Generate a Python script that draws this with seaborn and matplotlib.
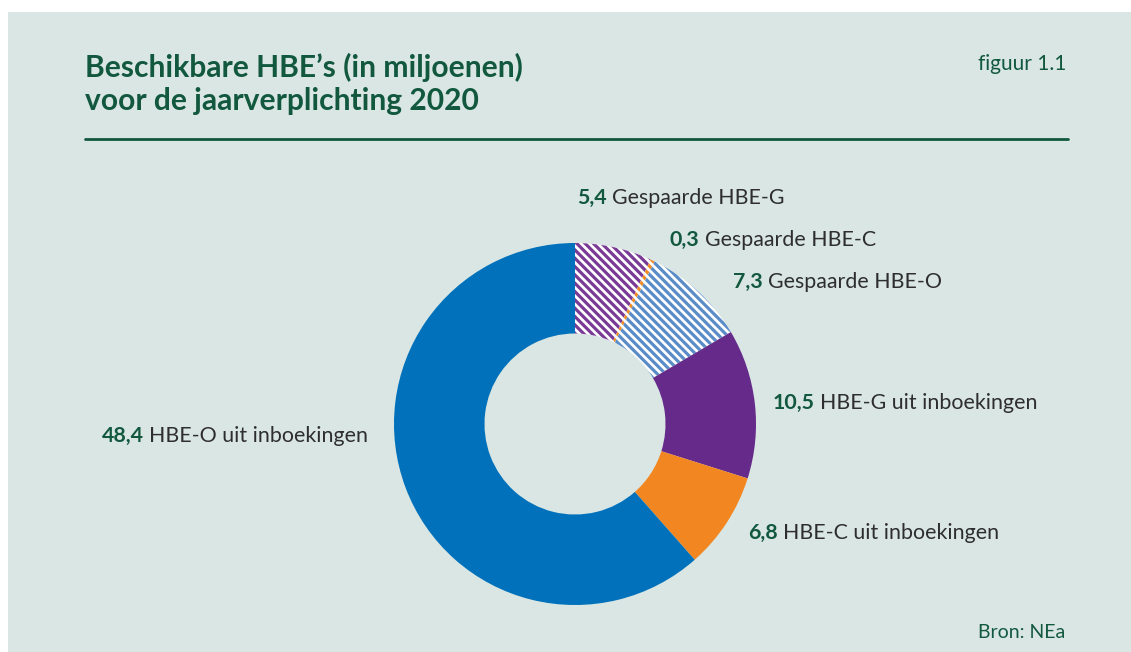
import matplotlib
matplotlib.use("Agg")
import matplotlib.pyplot as plt
import seaborn as sns
from matplotlib.patches import Rectangle
from matplotlib.lines import Line2D

sns.set_theme(style="white")
plt.rcParams['font.family'] = ['Lato', 'DejaVu Sans']
plt.rcParams['hatch.linewidth'] = 2.3

# Data
values = [5.4, 0.3, 7.3, 10.5, 6.8, 48.4]
value_labels = ["5,4", "0,3", "7,3", "10,5", "6,8", "48,4"]
names = ["Gespaarde HBE-G", "Gespaarde HBE-C", "Gespaarde HBE-O",
         "HBE-G uit inboekingen", "HBE-C uit inboekingen", "HBE-O uit inboekingen"]
hatched = [True, True, True, False, False, False]
colors = ["#7a3b97", "#f08a24", "#5a8cc8", "#652a8a", "#f28722", "#0071ba"]

title = "Beschikbare HBE\u2019s (in miljoenen)\nvoor de jaarverplichting 2020"

W, H = 1131, 652
fig = plt.figure(figsize=(W / 100, H / 100), dpi=100)
fig.patch.set_facecolor("white")

def fx(px):
    return px / W

def fy(py):
    return 1 - py / H

bg = "#d9e6e3"
green = "#12583f"
grey = "#2e2e2e"

fig.patches.append(Rectangle((fx(8), 0), fx(W) - fx(8), fy(12), transform=fig.transFigure,
                             facecolor=bg, edgecolor="none", zorder=-10))

fig.text(fx(85), fy(84), title, fontsize=21.6, fontweight="bold", color=green,
         ha="left", va="center", linespacing=1.22)
fig.text(fx(1066), fy(64), "figuur 1.1", fontsize=15, color=green, ha="right", va="center")
fig.lines.append(Line2D([fx(85), fx(1068)], [fy(139), fy(139)], transform=fig.transFigure,
                        color=green, lw=2))
fig.text(fx(1065), fy(632), "Bron: NEa", fontsize=14, color=green, ha="right", va="center")

# Donut
cx, cy, r = 575, 424, 181
ax = fig.add_axes([fx(cx - r), fy(cy + r), (2 * r) / W, (2 * r) / H])
ax.set_facecolor("none")
wedges, _ = ax.pie(values, startangle=90, counterclock=False, radius=1,
                   wedgeprops=dict(width=0.5, linewidth=0))
for w, c, h in zip(wedges, colors, hatched):
    if h:
        w.set_facecolor("white")
        w.set_edgecolor(c)
        w.set_hatch("\\\\\\\\")
        w.set_linewidth(0)
    else:
        w.set_facecolor(c)
        w.set_edgecolor(c)
ax.set_xlim(-1, 1)
ax.set_ylim(-1, 1)
ax.set_aspect("equal")
ax.axis("off")

# Labels: (x_px, y_px, align)
label_pos = [(577, 198, "left"), (670, 240, "left"), (733, 282, "left"),
             (773, 403, "left"), (748, 533, "left"), (368, 436, "right")]

fig.canvas.draw()
renderer = fig.canvas.get_renderer()
fs = 15.4
for (x, y, al), vl, nm in zip(label_pos, value_labels, names):
    if al == "left":
        t1 = fig.text(fx(x), fy(y), vl, fontsize=fs, fontweight="bold", color=green,
                      ha="left", va="center")
        bb = t1.get_window_extent(renderer)
        fig.text(fx(bb.x1 + 5), fy(y), nm, fontsize=fs, color=grey, ha="left", va="center")
    else:
        t2 = fig.text(fx(x), fy(y), nm, fontsize=fs, color=grey, ha="right", va="center")
        bb = t2.get_window_extent(renderer)
        fig.text(fx(bb.x0 - 5), fy(y), vl, fontsize=fs, fontweight="bold", color=green,
                 ha="right", va="center")

fig.savefig("out.png", dpi=100, facecolor=fig.get_facecolor())
